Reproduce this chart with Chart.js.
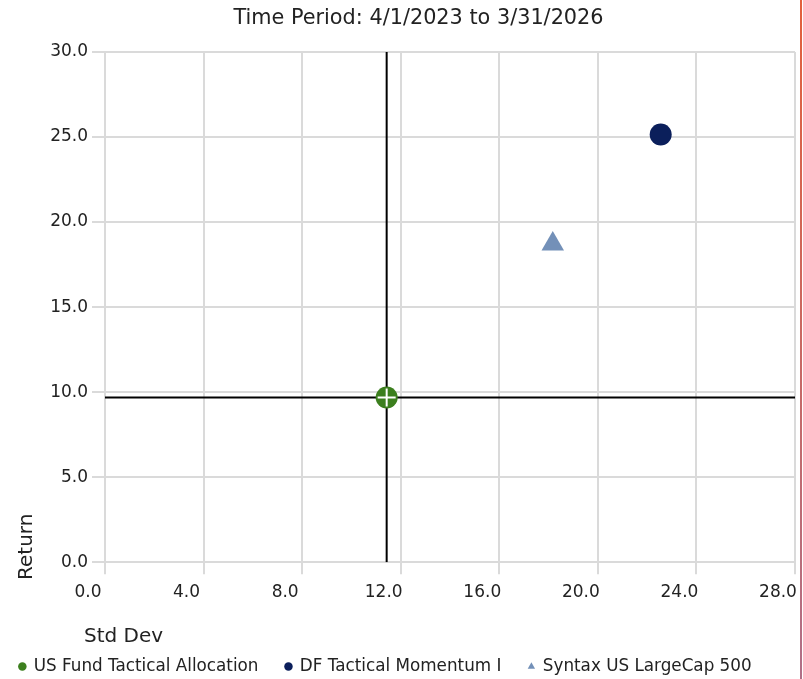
<!DOCTYPE html>
<html>
<head>
<meta charset="utf-8">
<script src="https://cdn.jsdelivr.net/npm/chart.js@4"></script>
<style>
  html, body { margin: 0; padding: 0; background: #fff; overflow: hidden; }
  #c { position: absolute; left: 0; top: 0; }
  #edge { position: absolute; left: 800px; top: 0; width: 2px; height: 679px;
          background: linear-gradient(#e2603c, #b07088); }
</style>
</head>
<body>
<canvas id="c" width="800" height="679"></canvas>
<div id="edge"></div>
<script>
const titleText = 'Time Period: 4/1/2023 to 3/31/2026';
const xTitle = 'Std Dev';
const yTitle = 'Return';
const seriesNames = ['US Fund Tactical Allocation', 'DF Tactical Momentum I', 'Syntax US LargeCap 500'];
const stdDev = [11.43, 22.55, 18.17];
const returns = [9.68, 25.15, 18.71];
const seriesColors = ['#3c7f1e', '#0b1f5b', '#7390b8'];
const seriesShapes = ['circle', 'circle', 'triangle'];
const xMin = 0, xMax = 28, xStep = 4;
const yMin = 0, yMax = 30, yStep = 5;

const FONT = 'DejaVu Sans';

const pointSets = seriesNames.map((name, i) => ({
  type: 'scatter',
  label: name,
  data: [{ x: stdDev[i], y: returns[i] }],
  backgroundColor: seriesColors[i],
  borderColor: seriesColors[i],
  borderWidth: 0,
  pointStyle: seriesShapes[i],
  pointRadius: seriesShapes[i] === 'triangle' ? 13 : 11,
  pointHoverRadius: seriesShapes[i] === 'triangle' ? 13 : 11,
  order: 1,
  isLegend: true
}));

const crossSet = {
  type: 'scatter',
  label: 'cross',
  data: [{ x: stdDev[0], y: returns[0] }],
  pointStyle: 'cross',
  pointRadius: 9,
  borderColor: '#ffffff',
  backgroundColor: '#ffffff',
  borderWidth: 2,
  order: 0
};

const hLine = {
  type: 'line',
  label: 'h',
  data: [{ x: xMin, y: returns[0] }, { x: xMax, y: returns[0] }],
  borderColor: '#000',
  borderWidth: 2,
  pointRadius: 0,
  order: 10
};
const vLine = {
  type: 'line',
  label: 'v',
  data: [{ x: stdDev[0], y: yMin }, { x: stdDev[0], y: yMax }],
  borderColor: '#000',
  borderWidth: 2,
  pointRadius: 0,
  order: 10
};

let saved = null;
const axisTitles = {
  id: 'axisTitles',
  beforeDraw(chart) {
    const lg = chart.legend, tb = chart.titleBlock;
    saved = { ll: lg.left, lr: lg.right, tl: tb.left, tr: tb.right };
    lg.left -= 12; lg.right -= 12;
    tb.left += 21; tb.right += 21;
  },
  afterDraw(chart) {
    const ctx = chart.ctx;
    ctx.save();
    ctx.fillStyle = '#222';
    ctx.font = '20px "' + FONT + '"';
    ctx.textBaseline = 'middle';
    ctx.textAlign = 'left';
    ctx.fillText(xTitle, 84, 637);
    ctx.translate(27, 580);
    ctx.rotate(-Math.PI / 2);
    ctx.fillText(yTitle, 0, 0);
    ctx.restore();
    if (saved) {
      chart.legend.left = saved.ll; chart.legend.right = saved.lr;
      chart.titleBlock.left = saved.tl; chart.titleBlock.right = saved.tr;
    }
  }
};

new Chart(document.getElementById('c'), {
  type: 'scatter',
  data: { datasets: [...pointSets, crossSet, hLine, vLine] },
  options: {
    responsive: false,
    animation: false,
    layout: { autoPadding: false, padding: { left: 0, right: 5, top: 0, bottom: -6 } },
    plugins: {
      tooltip: { enabled: false },
      title: {
        display: true,
        text: titleText,
        color: '#222',
        font: { family: FONT, size: 20.8, weight: 'normal' },
        padding: { top: 6, bottom: 21 }
      },
      legend: {
        position: 'bottom',
        align: 'center',
        labels: {
          filter: (item, data) => !!data.datasets[item.datasetIndex].isLegend,
          usePointStyle: true,
          boxWidth: 6,
          boxHeight: 6,
          padding: 27,
          color: '#222',
          font: { family: FONT, size: 16.8 }
        }
      }
    },
    scales: {
      x: {
        type: 'linear',
        min: xMin, max: xMax,
        afterFit: s => { s.height = 69; s.paddingRight = 0; s.paddingLeft = 0; },
        ticks: {
          stepSize: xStep,
          callback: v => Number(v).toFixed(1),
          color: '#222',
          font: { family: FONT, size: 17 },
          labelOffset: -17,
          padding: 8
        },
        grid: { color: '#dadada', lineWidth: 2, tickLength: 12 },
        border: { color: '#dadada', width: 2 }
      },
      y: {
        type: 'linear',
        min: yMin, max: yMax,
        afterFit: s => { s.width = 105; s.paddingTop = 0; s.paddingBottom = 0; },
        ticks: {
          stepSize: yStep,
          callback: v => Number(v).toFixed(1),
          color: '#222',
          font: { family: FONT, size: 17 },
          padding: 4
        },
        grid: { color: '#dadada', lineWidth: 2, tickLength: 13 },
        border: { color: '#dadada', width: 2 }
      }
    }
  },
  plugins: [axisTitles]
});
</script>
</body>
</html>
